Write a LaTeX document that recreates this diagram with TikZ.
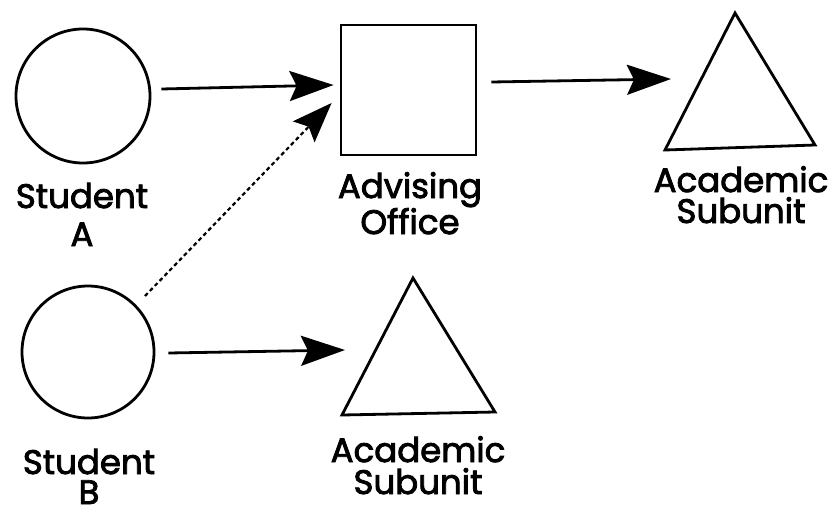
\documentclass[tikz,border=0pt]{standalone}
\usepackage{fontspec}
\newfontfamily\lblfont{Poppins}[UprightFeatures={FakeBold=2.5}]
\usetikzlibrary{arrows.meta,calc}
\begin{document}
\begin{tikzpicture}[x=1pt,y=-1pt,
  shape line/.style={draw=black,line width=2.8pt},
  lbl/.style={anchor=base,inner sep=0pt,font=\lblfont\fontsize{34}{40}\selectfont},
  arr/.style={line width=2.8pt,-{Stealth[length=44pt,width=30pt,inset=7pt]}},
  dotarr/.style={line width=2.2pt,dash pattern=on 4pt off 3pt,
    -{Stealth[length=40pt,width=30pt,inset=7pt]}}]
\useasboundingbox (0,0) rectangle (832,512);

% students
\node[shape line,circle,minimum size=134pt,inner sep=0pt] (cA) at (83,96) {};
\node[shape line,circle,minimum size=132pt,inner sep=0pt] (cB) at (88,352) {};

% advising office
\node[shape line,rectangle,minimum width=135pt,minimum height=130pt,inner sep=0pt] (sq) at (408.5,90) {};

% academic subunits
\coordinate (t1a) at (735,13);
\coordinate (t1l) at (665,150);
\coordinate (t1r) at (815,145);
\draw[shape line,line join=miter] (t1a) -- (t1l) -- (t1r) -- cycle;
\coordinate (t2a) at (413,278);
\coordinate (t2l) at (342,415);
\coordinate (t2r) at (495,412);
\draw[shape line,line join=miter] (t2a) -- (t2l) -- (t2r) -- cycle;

% arrow targets near the triangles
\coordinate (t1in) at (671,79);
\coordinate (t2in) at (345,350);

% labels
\node[lbl] (lA1) at (82,208) {Student};
\node[lbl] (lA2) at (82,246) {A};
\node[lbl] (lB1) at (89,474) {Student};
\node[lbl] (lB2) at (89,504) {B};
\node[lbl] (lO1) at (410,198) {Advising};
\node[lbl] (lO2) at (410,234) {Office};
\node[lbl] (lS1) at (741,192) {Academic};
\node[lbl] (lS2) at (741,223) {Subunit};
\node[lbl] (lT1) at (418,462) {Academic};
\node[lbl] (lT2) at (418,494) {Subunit};

% connectors
\draw[arr] ([xshift=10pt,yshift=7pt]cA.east) -- ([xshift=-6pt,yshift=5pt]sq.west);
\draw[arr] ([xshift=14pt,yshift=8pt]sq.east) -- (t1in);
\draw[arr] ([xshift=13pt,yshift=-1pt]cB.east) -- (t2in);
\draw[dotarr] ($(cB.center)+(57,-56)$) -- ([xshift=-8pt,yshift=-13pt]sq.west);
\end{tikzpicture}
\end{document}
